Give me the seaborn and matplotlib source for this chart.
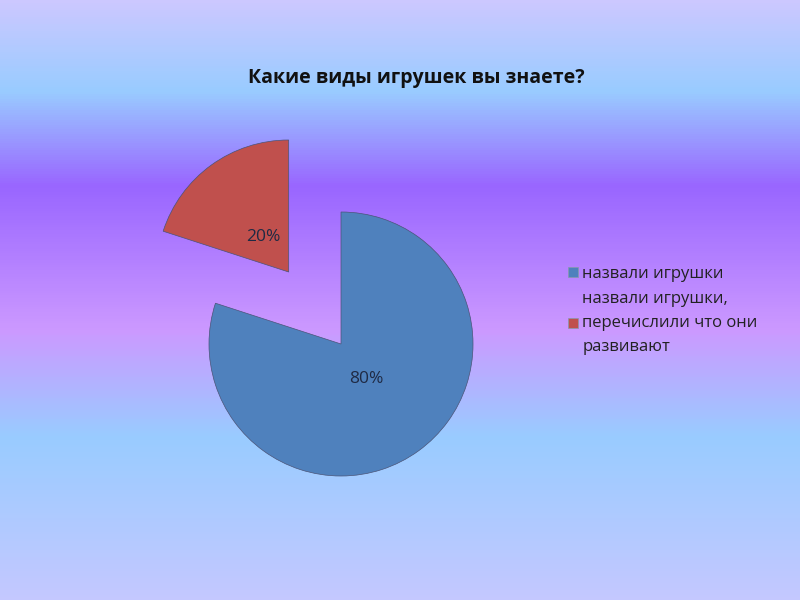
import numpy as np
import matplotlib
matplotlib.use("Agg")
import matplotlib.pyplot as plt
from matplotlib.colors import LinearSegmentedColormap
import seaborn as sns

# ---- data ----
categories = ["назвали игрушки", "назвали игрушки,\nперечислили что они\nразвивают"]
values = [80, 20]
title = "Какие виды игрушек вы знаете?"
colors = ["#4f81bd", "#c0504d"]

sns.set_theme(style="white")
plt.rcParams['font.family'] = ['Open Sans', 'DejaVu Sans']

W, H = 800, 600
fig = plt.figure(figsize=(8, 6), dpi=100)

# background gradient
bg = fig.add_axes([0, 0, 1, 1], zorder=0)
stops = [(0.0, "#ccc8ff"), (90/600, "#99ccff"), (185/600, "#9966ff"),
         (330/600, "#cc99ff"), (438/600, "#99ccff"), (1.0, "#c4c8ff")]
cmap = LinearSegmentedColormap.from_list("bg", stops)
grad = np.linspace(0, 1, 600).reshape(-1, 1)
bg.imshow(grad, aspect="auto", cmap=cmap, extent=[0, 1, 1, 0])
bg.set_axis_off()

# pie axes in pixel coordinates
ax = fig.add_axes([0, 0, 1, 1], zorder=1)
ax.set_aspect("equal")
ax.patch.set_alpha(0)

radius = 132
cx, cy = 341, H - 344
wedges, texts, autotexts = ax.pie(
    values, colors=colors, startangle=90, counterclock=False,
    explode=[0, 89], radius=radius, center=(cx, cy),
    autopct="%d%%", pctdistance=0.33,
    wedgeprops=dict(linewidth=0.5, edgecolor="#4a5478"),
    textprops=dict(fontsize=12.5, color="#1f2a44"),
    frame=True)
ax.set_xlim(0, W)
ax.set_ylim(0, H)
ax.set_axis_off()

fig.text(416/W, 1 - 78/H, title, ha="center", va="center",
         fontsize=14, fontweight="bold", color="#111111")

leg = fig.legend(wedges, categories, loc="upper left",
                 bbox_to_anchor=(560/W, 1 - 258/H), frameon=False,
                 fontsize=12, handlelength=0.55, handleheight=0.55,
                 handletextpad=0.3, labelspacing=0.5, borderpad=0)
for t in leg.get_texts():
    t.set_linespacing(1.7)
    t.set_color("#222222")
for h in leg.legend_handles:
    h.set_edgecolor("#8899aa")
    h.set_linewidth(0.5)

fig.savefig("out.png", dpi=100)
